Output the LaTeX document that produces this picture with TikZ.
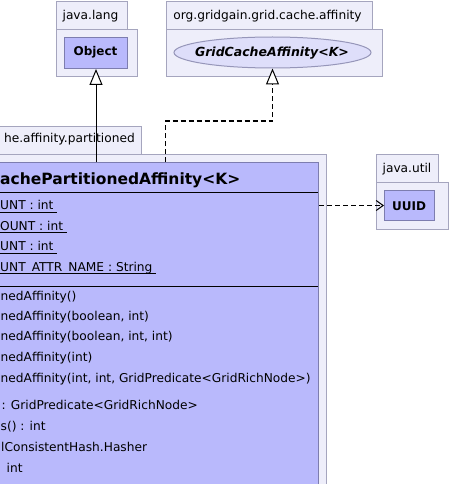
\documentclass[tikz,border=0pt]{standalone}
\usepackage{fontspec}
\setmainfont{DejaVu Sans}
\usetikzlibrary{arrows.meta,shapes.geometric}
\definecolor{pkgfill}{RGB}{238,238,250}
\definecolor{pkgline}{RGB}{165,165,190}
\definecolor{clsfill}{RGB}{185,185,252}
\definecolor{clsline}{RGB}{125,125,175}
\definecolor{ifill}{RGB}{222,222,250}
\definecolor{iline}{RGB}{150,150,185}
\newcommand{\ulx}[1]{\setbox0\hbox{#1}\rlap{\rule[-3pt]{\wd0}{0.8pt}}\box0}
\tikzset{
  pkgbox/.style={draw=pkgline, fill=pkgfill, line width=1pt, inner sep=0pt, anchor=north west},
  clsbox/.style={draw=clsline, fill=clsfill, line width=1pt, inner sep=0pt, anchor=north west},
  ifbox/.style={ellipse, draw=iline, fill=ifill, line width=1pt, inner sep=0pt},
  lbl/.style={inner sep=0pt, anchor=base, font=\fontsize{12.2}{14}\selectfont},
  mem/.style={inner sep=0pt, anchor=base west, font=\fontsize{12.2}{14}\selectfont},
  bname/.style={inner sep=0pt, anchor=base, font=\fontsize{12}{14}\selectfont\bfseries},
  inh/.style={line width=1pt, -{Triangle[length=16pt,width=13pt,fill=white,line width=1pt]}},
  real/.style={inh, dash pattern=on 5pt off 3pt},
  dep/.style={line width=1pt, dash pattern=on 5pt off 3pt, -{Straight Barb[length=7pt,width=10pt,line width=1pt]}},
}
\begin{document}
\begin{tikzpicture}[x=1pt,y=-1pt]
\useasboundingbox (0,0) rectangle (450,484);
\clip (0,0) rectangle (450,484);
% java.lang
\node[pkgbox, minimum width=71pt, minimum height=28pt] (langtab) at (56,1) {};
\node[pkgbox, minimum width=81pt, minimum height=47pt] (langbody) at (56,29) {};
\node[lbl] (langlbl) at (90.5,19.5) {java.lang};
\node[clsbox, minimum width=63pt, minimum height=31pt] (obj) at (64,37) {};
\node[bname] (objlbl) at (95.5,56) {Object};
% org.gridgain.grid.cache.affinity
\node[pkgbox, minimum width=206pt, minimum height=28pt] (afftab) at (166,1) {};
\node[pkgbox, minimum width=216pt, minimum height=47pt] (affbody) at (166,29) {};
\node[lbl] (afflbl) at (267.5,19.5) {org.gridgain.grid.cache.affinity};
\node[ifbox, minimum width=197pt, minimum height=31pt] (gca) at (272.5,52.5) {};
\node[bname, font=\fontsize{12.5}{14}\selectfont\bfseries\itshape] (gcalbl) at (272,56.5) {GridCacheAffinity<K>};
% partitioned package
\node[pkgbox, minimum width=191pt, minimum height=28pt] (parttab) at (-50,126) {};
\node[pkgbox, minimum width=376pt, minimum height=380pt] (partbody) at (-50,154) {};
\node[mem, anchor=base east] (partlbl) at (135,142.5) {he.affinity.partitioned};
\node[clsbox, minimum width=358pt, minimum height=370pt] (cls) at (-40,162) {};
\draw[black, line width=1pt] (-40,192.5) coordinate (s1a) -- (318,192.5) coordinate (s1b);
\draw[black, line width=1pt] (-40,286.5) coordinate (s2a) -- (318,286.5) coordinate (s2b);
\node[mem, font=\fontsize{15.5}{18}\selectfont\bfseries] (hdr) at (0,184) {achePartitionedAffinity<K>};
\node[mem] (a1) at (0,209.5) {\ulx{UNT : int\ }};
\node[mem] (a2) at (0,230) {\ulx{OUNT : int\ }};
\node[mem] (a3) at (0,250.5) {\ulx{UNT : int\ }};
\node[mem] (a4) at (0,271) {\ulx{UNT\_ATTR\_NAME : String\ }};
\node[mem] (m1) at (0.5,300) {nedAffinity()};
\node[mem] (m2) at (0.5,320) {nedAffinity(boolean, int)};
\node[mem] (m3) at (0.5,340.5) {nedAffinity(boolean, int, int)};
\node[mem] (m4) at (0.5,361.5) {nedAffinity(int)};
\node[mem] (m5) at (0.5,382.5) {nedAffinity(int, int, GridPredicate<GridRichNode>)};
\node[mem] (m6) at (1.5,409.5) {: GridPredicate<GridRichNode>};
\node[mem] (m7) at (0.5,430) {s() : int};
\node[mem] (m8) at (1,451) {lConsistentHash.Hasher};
\node[mem] (m9) at (6.5,472) {int};
% java.util
\node[pkgbox, minimum width=62pt, minimum height=28pt] (utiltab) at (376,154) {};
\node[pkgbox, minimum width=72pt, minimum height=47pt] (utilbody) at (376,182) {};
\node[lbl] (utillbl) at (407,172.5) {java.util};
\node[clsbox, minimum width=50pt, minimum height=30pt] (uuid) at (384,190) {};
\node[bname] (uuidlbl) at (409,210) {UUID};
% connectors
\draw[inh] (obj.south |- cls.north) -- (obj.south);
\draw[real] ([xshift=26pt]cls.north) -- ++(0,-41) -| (gca.south);
\draw[dep] (cls.east |- uuid.west) -- (uuid.west);
\end{tikzpicture}
\end{document}
